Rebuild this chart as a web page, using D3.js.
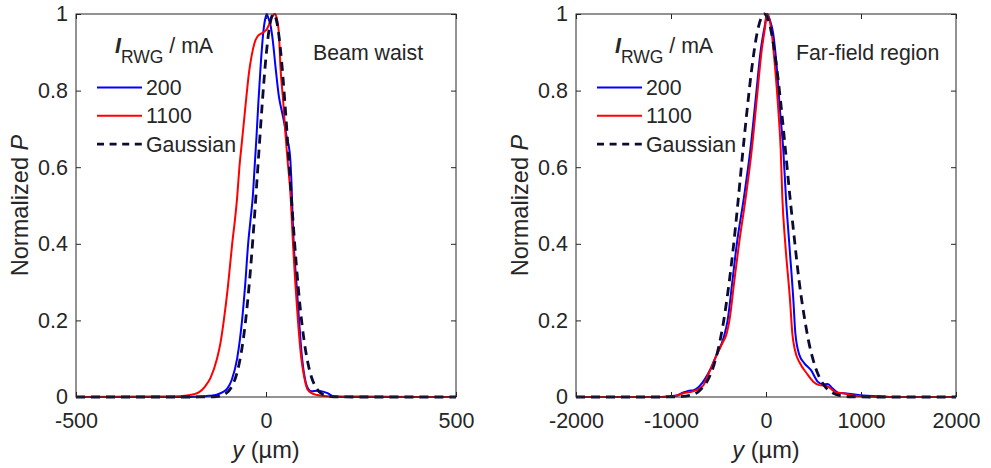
<!DOCTYPE html>
<html>
<head>
<meta charset="utf-8">
<script src="https://cdn.jsdelivr.net/npm/d3@7"></script>
<style>
  html, body { margin: 0; padding: 0; background: #fff; }
  svg { display: block; }
  text { font-family: "Liberation Sans", Arial, Helvetica, sans-serif; fill: #262626; }
</style>
</head>
<body>
<svg id="chart" width="991" height="468"></svg>
<script>
// ---- data: normalized power profiles P(y), y in µm ----
const yTicks = [0, 0.2, 0.4, 0.6, 0.8, 1];
const yTickLabels = ["0", "0.2", "0.4", "0.6", "0.8", "1"];

const waistXTicks = [-500, 0, 500];
const waistXTickLabels = ["-500", "0", "500"];
const farXTicks = [-2000, -1000, 0, 1000, 2000];
const farXTickLabels = ["-2000", "-1000", "0", "1000", "2000"];

const currents = ["200", "1100"];

// Beam waist, I_RWG = 200 mA
const waist200 = [[-500,0],[-200,0],[-175,0.001],[-150,0.003],[-130,0.006],[-115,0.012],[-102,0.022],[-90,0.045],[-76,0.10],[-63,0.20],[-55,0.29],[-47,0.40],[-41,0.46],[-35,0.52],[-30,0.60],[-25,0.68],[-20,0.77],[-15,0.85],[-10,0.92],[-5,0.97],[0,0.995],[2,1.0],[6,0.99],[12,0.97],[18,0.93],[25,0.862],[34,0.784],[43,0.74],[50,0.705],[56,0.67],[60,0.655],[64,0.62],[67,0.56],[70,0.47],[73,0.40],[80,0.30],[87,0.20],[95,0.10],[103,0.045],[112,0.02],[120,0.015],[135,0.016],[150,0.014],[162,0.01],[175,0.003],[200,0],[500,0]];
// Beam waist, I_RWG = 1100 mA
const waist1100 = [[-500,0],[-300,0.001],[-230,0.002],[-208,0.004],[-190,0.007],[-177,0.012],[-160,0.028],[-146,0.05],[-129,0.10],[-120,0.14],[-111,0.20],[-100,0.29],[-89,0.40],[-82,0.46],[-76,0.52],[-70,0.60],[-64,0.66],[-58,0.72],[-52,0.78],[-45,0.845],[-38,0.89],[-30,0.925],[-22,0.942],[-14,0.948],[-6,0.953],[2,0.96],[8,0.972],[14,0.988],[20,0.998],[23,1.0],[28,0.99],[34,0.949],[38,0.862],[45,0.775],[51,0.69],[56,0.627],[65,0.52],[71,0.40],[77,0.30],[84,0.20],[93,0.10],[100,0.055],[109,0.02],[120,0.01],[135,0.005],[161,0.002],[250,0.001],[500,0]];
// Beam waist, Gaussian reference
const waistGauss = [[-500,0],[-200,0],[-170,0.0001],[-150,0.0002],[-130,0.0012],[-110,0.0065],[-90,0.0274],[-80,0.051],[-70,0.0899],[-60,0.149],[-50,0.233],[-40,0.343],[-30,0.475],[-20,0.621],[-10,0.765],[0,0.888],[10,0.971],[20,1],[30,0.971],[40,0.888],[50,0.765],[60,0.621],[70,0.475],[80,0.343],[90,0.233],[100,0.149],[110,0.0899],[120,0.051],[130,0.0274],[150,0.0065],[170,0.0012],[190,0.0002],[210,0.0001],[240,0],[500,0]];

// Far-field region, I_RWG = 200 mA
const far200 = [[-2000,0],[-1100,0],[-1000,0.002],[-940,0.004],[-870,0.012],[-820,0.016],[-760,0.018],[-700,0.028],[-640,0.048],[-580,0.075],[-530,0.105],[-440,0.16],[-404,0.2],[-355,0.3],[-307,0.4],[-233,0.52],[-165,0.645],[-110,0.775],[-55,0.906],[-15,0.966],[14,1.0],[40,0.985],[75,0.95],[113,0.862],[147,0.749],[182,0.645],[210,0.52],[245,0.4],[288,0.253],[309,0.166],[351,0.11],[404,0.088],[474,0.07],[544,0.04],[596,0.033],[649,0.034],[702,0.022],[761,0.011],[849,0.009],[919,0.007],[1024,0.004],[1200,0.002],[1300,0],[2000,0]];
// Far-field region, I_RWG = 1100 mA
const far1100 = [[-2000,0],[-1100,0],[-957,0.0026],[-869,0.0097],[-800,0.013],[-730,0.018],[-660,0.03],[-624,0.05],[-570,0.08],[-518,0.11],[-460,0.14],[-414,0.166],[-385,0.2],[-335,0.3],[-284,0.4],[-214,0.52],[-150,0.645],[-98,0.775],[-45,0.906],[-10,0.966],[7,1.0],[30,0.99],[60,0.95],[95,0.862],[130,0.749],[155,0.645],[172,0.52],[203,0.4],[253,0.253],[277,0.166],[305,0.122],[358,0.088],[428,0.062],[498,0.04],[561,0.031],[638,0.029],[691,0.02],[744,0.011],[814,0.0097],[919,0.004],[1095,0.001],[1200,0],[2000,0]];
// Far-field region, Gaussian reference
const farGauss = [[-2000,0],[-1200,0],[-1000,0.0002],[-900,0.001],[-800,0.0045],[-700,0.0165],[-600,0.0503],[-550,0.082],[-500,0.1287],[-450,0.192],[-400,0.276],[-350,0.377],[-300,0.496],[-250,0.625],[-200,0.747],[-150,0.857],[-100,0.942],[-50,0.99],[-18,1],[0,0.997],[50,0.96],[100,0.884],[150,0.78],[200,0.657],[250,0.528],[300,0.41],[350,0.3],[400,0.214],[450,0.144],[500,0.0936],[550,0.058],[600,0.0344],[700,0.0106],[800,0.0027],[900,0.0006],[1000,0.0001],[1200,0],[2000,0]];

// ---- styling ----
const TICK_FONT = 21.5;
const TEXT_FONT = 21.3;
const LABEL_FONT = 23.6;
const INK = "#262626";
const BLUE = "#0000ff", RED = "#ff0000", DASH = "#0b0b33";

const svg = d3.select("#chart");

function drawPanel(cfg) {
  const g = svg.append("g").attr("transform", `translate(${cfg.left},0)`);
  const W = 380, top = 14, bottom = 397;

  const x = d3.scaleLinear().domain(cfg.xDomain).range([0, W]);
  const y = d3.scaleLinear().domain([0, 1]).range([bottom, top]);

  // curves
  const line = d3.line().x(d => x(d[0])).y(d => y(d[1])).curve(d3.curveMonotoneX);
  const series = [
    { data: cfg.s200, color: BLUE, width: 2, dash: null },
    { data: cfg.s1100, color: RED, width: 2, dash: null },
    { data: cfg.gauss, color: DASH, width: 2.8, dash: "9,6" }
  ];
  series.forEach(s => {
    g.append("path").datum(s.data)
      .attr("d", line)
      .attr("fill", "none")
      .attr("stroke", s.color)
      .attr("stroke-width", s.width)
      .attr("stroke-linejoin", "round")
      .attr("stroke-dasharray", s.dash);
  });

  // axes with inward ticks on all four sides
  const fmtX = d => cfg.xLabels[cfg.xTicks.indexOf(d)];
  const fmtY = d => yTickLabels[yTicks.indexOf(d)];

  const ax = (gen) => gen.tickSizeOuter(0).tickSizeInner(-5);
  const bottomAx = g.append("g").attr("transform", `translate(0,${bottom})`)
    .call(ax(d3.axisBottom(x)).tickValues(cfg.xTicks).tickFormat(fmtX).tickPadding(15.5));
  const topAx = g.append("g").attr("transform", `translate(0,${top})`)
    .call(ax(d3.axisTop(x)).tickValues(cfg.xTicks).tickFormat(""));
  const leftAx = g.append("g")
    .call(ax(d3.axisLeft(y)).tickValues(yTicks).tickFormat(fmtY).tickPadding(8));
  const rightAx = g.append("g").attr("transform", `translate(${W},0)`)
    .call(ax(d3.axisRight(y)).tickValues(yTicks).tickFormat(""));

  [bottomAx, topAx, leftAx, rightAx].forEach(a => {
    a.select(".domain").remove();
    a.selectAll(".tick line").attr("stroke", INK).attr("stroke-width", 1);
    a.selectAll(".tick text").attr("font-size", TICK_FONT).attr("fill", INK)
      .attr("font-family", "Liberation Sans, Arial, sans-serif");
  });

  // box
  g.append("rect").attr("x", 0).attr("y", top).attr("width", W).attr("height", bottom - top)
    .attr("fill", "none").attr("stroke", INK).attr("stroke-width", 1);

  // axis titles
  const xl = g.append("text").attr("x", W / 2).attr("y", 458)
    .attr("text-anchor", "middle").attr("font-size", LABEL_FONT);
  xl.append("tspan").attr("font-style", "italic").text("y");
  xl.append("tspan").text(" (µm)");

  const yl = g.append("text")
    .attr("transform", `translate(${-48},${(top + bottom) / 2}) rotate(-90)`)
    .attr("text-anchor", "middle").attr("font-size", LABEL_FONT);
  yl.append("tspan").text("Normalized ");
  yl.append("tspan").attr("font-style", "italic").text("P");

  // legend
  const lg = g.append("g");
  const title = lg.append("text").attr("x", 39).attr("y", 53).attr("font-size", TEXT_FONT);
  title.append("tspan").attr("font-weight", "bold").attr("font-style", "italic").text("I");
  title.append("tspan").attr("font-size", 17.5).attr("dy", 9.7).text("RWG");
  title.append("tspan").attr("dy", -9.7).text(" / mA");

  const entries = [
    { label: currents[0], color: BLUE, width: 2, dash: null },
    { label: currents[1], color: RED, width: 2, dash: null },
    { label: "Gaussian", color: DASH, width: 2.8, dash: "7,5.6" }
  ];
  entries.forEach((e, i) => {
    const ly = 87.5 + i * 28.3;
    lg.append("line").attr("x1", 21).attr("x2", 66).attr("y1", ly).attr("y2", ly)
      .attr("stroke", e.color).attr("stroke-width", e.width).attr("stroke-dasharray", e.dash);
    lg.append("text").attr("x", 70).attr("y", ly + 7.5).attr("font-size", TEXT_FONT).text(e.label);
  });

  // panel annotation
  g.append("text").attr("x", cfg.noteX).attr("y", 60).attr("font-size", TEXT_FONT).text(cfg.note);
}

drawPanel({
  left: 76, xDomain: [-500, 500], xTicks: waistXTicks, xLabels: waistXTickLabels,
  s200: waist200, s1100: waist1100, gauss: waistGauss,
  note: "Beam waist", noteX: 237
});
drawPanel({
  left: 576, xDomain: [-2000, 2000], xTicks: farXTicks, xLabels: farXTickLabels,
  s200: far200, s1100: far1100, gauss: farGauss,
  note: "Far-field region", noteX: 220
});
</script>
</body>
</html>
